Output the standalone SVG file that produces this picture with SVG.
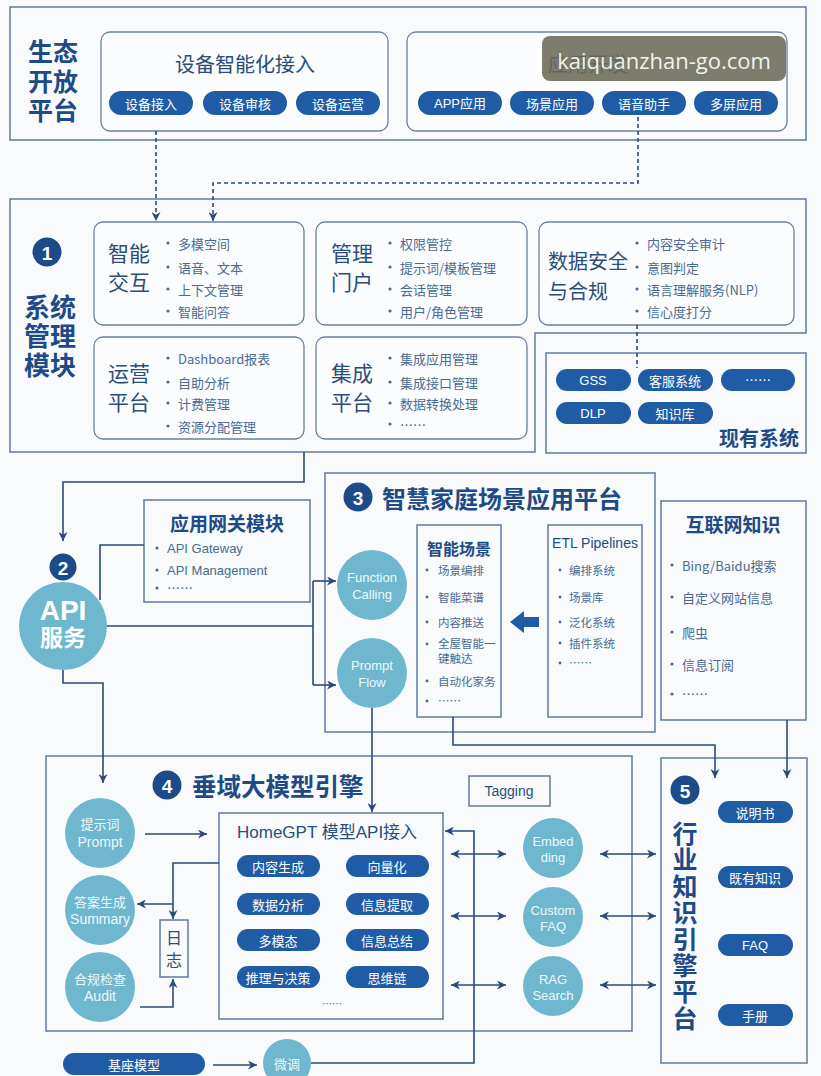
<svg xmlns="http://www.w3.org/2000/svg" width="821" height="1076" viewBox="0 0 821 1076">
<style>
text{font-family:"Noto Sans CJK SC","Liberation Sans",sans-serif}
.lat{font-family:"Liberation Sans","Noto Sans CJK SC",sans-serif}
.ol{fill:none;stroke:#5d7ba1;stroke-width:1.5}
.sub{fill:#fbfcfe;stroke:#6b809d;stroke-width:1.3}
.pill{fill:#1f5ca5}
.pt{fill:#ffffff;font-size:13px;text-anchor:middle;dominant-baseline:central}
.circ{fill:#6fb7cf}
.ct{fill:#eef8fb;font-size:13px;text-anchor:middle;dominant-baseline:central}
.h{fill:#1e4a86;font-weight:bold;dominant-baseline:central}
.hc{fill:#1e4a86;font-weight:bold;text-anchor:middle;dominant-baseline:central}
.st{fill:#2a4d7a;dominant-baseline:central}
.b{fill:#4b6a92;font-size:13px;dominant-baseline:central}
.bs{fill:#4b6a92;font-size:11.5px;dominant-baseline:central}
.dot{fill:#4b6a92}
.num{fill:#1d4b8a}
.nt{fill:#ffffff;font-size:19px;font-weight:bold;text-anchor:middle;dominant-baseline:central}
.conn{fill:none;stroke:#2b4a7a;stroke-width:1.6}
.dash{stroke-dasharray:4 3}
</style>
<defs>
<marker id="ah" viewBox="0 0 10 10" refX="10" refY="5" markerWidth="9" markerHeight="9" markerUnits="userSpaceOnUse" orient="auto-start-reverse"><path d="M0,0 L10,5 L0,10 L3,5 z" fill="#2b4a7a"/></marker>
</defs>
<rect x="0" y="0" width="821" height="1076" fill="#f8fafc"/>

<!-- 生态开放平台 -->
<g id="eco">
<rect class="ol" x="10" y="7" width="796" height="133"/>
<text class="hc lat" font-size="25"><tspan x="53" y="52">生态</tspan><tspan x="53" y="82">开放</tspan><tspan x="53" y="111">平台</tspan></text>
</g>
<g id="device">
<rect class="sub" x="101" y="32" width="287" height="99" rx="9"/>
<text class="st" x="245" y="63" font-size="20" text-anchor="middle">设备智能化接入</text>
<rect class="pill" x="109" y="91" width="84" height="24" rx="12"/><text class="pt" x="151" y="103">设备接入</text>
<rect class="pill" x="203" y="91" width="84" height="24" rx="12"/><text class="pt" x="245" y="103">设备审核</text>
<rect class="pill" x="296" y="91" width="84" height="24" rx="12"/><text class="pt" x="338" y="103">设备运营</text>
</g>
<g id="appdev">
<rect class="sub" x="407" y="32" width="380" height="99" rx="9"/>
<text class="st" x="588" y="63" font-size="20" text-anchor="middle">应用开发</text>
<rect class="pill" x="418" y="91" width="84" height="24" rx="12"/><text class="pt lat" x="460" y="103">APP应用</text>
<rect class="pill" x="510" y="91" width="84" height="24" rx="12"/><text class="pt" x="552" y="103">场景应用</text>
<rect class="pill" x="602" y="91" width="84" height="24" rx="12"/><text class="pt" x="644" y="103">语音助手</text>
<rect class="pill" x="694" y="91" width="84" height="24" rx="12"/><text class="pt" x="736" y="103">多屏应用</text>
</g>

<!-- Module 1 -->
<g id="module1">
<path class="ol" d="M10,199 H806 V333 H535 V452 H10 Z"/>
<circle class="num" cx="47" cy="252" r="14.5"/><text class="nt lat" x="47" y="253">1</text>
<text class="hc lat" font-size="26"><tspan x="50" y="308">系统</tspan><tspan x="50" y="337">管理</tspan><tspan x="50" y="366">模块</tspan></text>
</g>
<g id="interact">
<rect class="sub" x="94" y="222" width="210" height="103" rx="9"/>
<text class="st lat" font-size="21" text-anchor="middle"><tspan x="129" y="253">智能</tspan><tspan x="129" y="282">交互</tspan></text>
<circle class="dot" cx="168" cy="243" r="1.6"/><text class="b" x="178" y="243">多模空间</text>
<circle class="dot" cx="168" cy="267" r="1.6"/><text class="b" x="178" y="267">语音、文本</text>
<circle class="dot" cx="168" cy="289" r="1.6"/><text class="b" x="178" y="289">上下文管理</text>
<circle class="dot" cx="168" cy="311" r="1.6"/><text class="b" x="178" y="311">智能问答</text>
</g>
<g id="ops">
<rect class="sub" x="94" y="337" width="210" height="102" rx="9"/>
<text class="st lat" font-size="21" text-anchor="middle"><tspan x="129" y="373">运营</tspan><tspan x="129" y="402">平台</tspan></text>
<circle class="dot" cx="168" cy="358" r="1.6"/><text class="b" x="178" y="358">Dashboard报表</text>
<circle class="dot" cx="168" cy="382" r="1.6"/><text class="b" x="178" y="382">自助分析</text>
<circle class="dot" cx="168" cy="403" r="1.6"/><text class="b" x="178" y="403">计费管理</text>
<circle class="dot" cx="168" cy="426" r="1.6"/><text class="b" x="178" y="426">资源分配管理</text>
</g>
<g id="portal">
<rect class="sub" x="316" y="222" width="211" height="103" rx="9"/>
<text class="st lat" font-size="21" text-anchor="middle"><tspan x="352" y="253">管理</tspan><tspan x="352" y="282">门户</tspan></text>
<circle class="dot" cx="390" cy="243" r="1.6"/><text class="b" x="400" y="243">权限管控</text>
<circle class="dot" cx="390" cy="267" r="1.6"/><text class="b" x="400" y="267">提示词/模板管理</text>
<circle class="dot" cx="390" cy="289" r="1.6"/><text class="b" x="400" y="289">会话管理</text>
<circle class="dot" cx="390" cy="311" r="1.6"/><text class="b" x="400" y="311">用户/角色管理</text>
</g>
<g id="integ">
<rect class="sub" x="316" y="337" width="211" height="102" rx="9"/>
<text class="st lat" font-size="21" text-anchor="middle"><tspan x="352" y="373">集成</tspan><tspan x="352" y="402">平台</tspan></text>
<circle class="dot" cx="390" cy="358" r="1.6"/><text class="b" x="400" y="358">集成应用管理</text>
<circle class="dot" cx="390" cy="382" r="1.6"/><text class="b" x="400" y="382">集成接口管理</text>
<circle class="dot" cx="390" cy="403" r="1.6"/><text class="b" x="400" y="403">数据转换处理</text>
<circle class="dot" cx="390" cy="424" r="1.6"/><text class="b" x="400" y="424">……</text>
</g>
<g id="security">
<rect class="sub" x="539" y="222" width="255" height="103" rx="9"/>
<text class="st lat" font-size="20"><tspan x="548" y="262">数据安全</tspan><tspan x="548" y="292">与合规</tspan></text>
<circle class="dot" cx="637" cy="243" r="1.6"/><text class="b" x="647" y="243">内容安全审计</text>
<circle class="dot" cx="637" cy="267" r="1.6"/><text class="b" x="647" y="267">意图判定</text>
<circle class="dot" cx="637" cy="289" r="1.6"/><text class="b" x="647" y="289">语言理解服务(NLP)</text>
<circle class="dot" cx="637" cy="311" r="1.6"/><text class="b" x="647" y="311">信心度打分</text>
</g>
<g id="existing">
<rect class="ol" x="546" y="353" width="260" height="100"/>
<rect class="pill" x="556" y="369" width="75" height="22" rx="11"/><text class="pt lat" x="593" y="380">GSS</text>
<rect class="pill" x="638" y="369" width="75" height="22" rx="11"/><text class="pt" x="675" y="380">客服系统</text>
<rect class="pill" x="721" y="369" width="74" height="22" rx="11"/><text class="pt" x="758" y="379" font-size="10">……</text>
<rect class="pill" x="556" y="402" width="75" height="22" rx="11"/><text class="pt lat" x="593" y="413">DLP</text>
<rect class="pill" x="638" y="402" width="75" height="22" rx="11"/><text class="pt" x="675" y="413">知识库</text>
<text class="h" x="799" y="437" font-size="20" text-anchor="end">现有系统</text>
</g>

<!-- Module 2 -->
<g id="api">
<circle class="circ" cx="63" cy="626" r="44"/>
<text class="lat" fill="#ffffff" font-weight="bold" text-anchor="middle" dominant-baseline="central"><tspan x="63" y="610" font-size="28">API</tspan><tspan x="63" y="638" font-size="23">服务</tspan></text>
<circle class="num" cx="63" cy="567" r="13.5"/><text class="nt lat" x="63" y="568" font-size="18">2</text>
</g>
<g id="gateway">
<rect class="ol" x="144" y="500" width="166" height="102" fill="#fbfcfe"/>
<text class="hc" x="227" y="522" font-size="19">应用网关模块</text>
<circle class="dot" cx="157" cy="548" r="1.6"/><text class="b lat" x="167" y="548">API Gateway</text>
<circle class="dot" cx="157" cy="570" r="1.6"/><text class="b lat" x="167" y="570">API Management</text>
<circle class="dot" cx="157" cy="588" r="1.6"/><text class="b" x="167" y="587" font-size="10">……</text>
</g>

<!-- Module 3 -->
<g id="module3">
<rect class="ol" x="325" y="473" width="330" height="259"/>
<circle class="num" cx="358" cy="497" r="14.5"/><text class="nt lat" x="358" y="498">3</text>
<text class="h" x="382" y="497" font-size="24">智慧家庭场景应用平台</text>
</g>
<g id="funccall">
<circle class="circ" cx="372" cy="585" r="35"/>
<text class="ct lat" font-size="14"><tspan x="372" y="577">Function</tspan><tspan x="372" y="594">Calling</tspan></text>
</g>
<g id="promptflow">
<circle class="circ" cx="372" cy="673" r="35"/>
<text class="ct lat" font-size="14"><tspan x="372" y="665">Prompt</tspan><tspan x="372" y="682">Flow</tspan></text>
</g>
<g id="scenes">
<rect class="ol" x="417" y="525" width="84" height="192" fill="#fbfcfe"/>
<text class="hc" x="459" y="548" font-size="16">智能场景</text>
<circle class="dot" cx="427" cy="570" r="1.4"/><text class="bs" x="438" y="570">场景编排</text>
<circle class="dot" cx="427" cy="597" r="1.4"/><text class="bs" x="438" y="597">智能菜谱</text>
<circle class="dot" cx="427" cy="622" r="1.4"/><text class="bs" x="438" y="622">内容推送</text>
<circle class="dot" cx="427" cy="644" r="1.4"/><text class="bs lat"><tspan x="438" y="644">全屋智能一</tspan><tspan x="438" y="659">键触达</tspan></text>
<circle class="dot" cx="427" cy="681" r="1.4"/><text class="bs" x="438" y="681">自动化家务</text>
<circle class="dot" cx="427" cy="701" r="1.4"/><text class="bs" x="438" y="700" font-size="9">……</text>
</g>
<g id="etl">
<rect class="ol" x="548" y="525" width="94" height="192" fill="#fbfcfe"/>
<text class="lat" x="595" y="543" font-size="14" fill="#1e4a86" text-anchor="middle" dominant-baseline="central">ETL Pipelines</text>
<circle class="dot" cx="560" cy="570" r="1.4"/><text class="bs" x="569" y="570">编排系统</text>
<circle class="dot" cx="560" cy="597" r="1.4"/><text class="bs" x="569" y="597">场景库</text>
<circle class="dot" cx="560" cy="622" r="1.4"/><text class="bs" x="569" y="622">泛化系统</text>
<circle class="dot" cx="560" cy="643" r="1.4"/><text class="bs" x="569" y="643">插件系统</text>
<circle class="dot" cx="560" cy="663" r="1.4"/><text class="bs" x="569" y="662" font-size="9">……</text>
</g>
<path id="bigarrow" d="M510,622 L524,611 L524,617 L539,617 L539,627 L524,627 L524,633 Z" fill="#1f5ca5"/>

<!-- Internet knowledge -->
<g id="internet">
<rect class="ol" x="661" y="501" width="145" height="219" fill="#fbfcfe"/>
<text class="hc" x="733" y="523" font-size="19">互联网知识</text>
<circle class="dot" cx="672" cy="565" r="1.6"/><text class="b" x="682" y="565">Bing/Baidu搜索</text>
<circle class="dot" cx="672" cy="597" r="1.6"/><text class="b" x="682" y="597">自定义网站信息</text>
<circle class="dot" cx="672" cy="632" r="1.6"/><text class="b" x="682" y="632">爬虫</text>
<circle class="dot" cx="672" cy="664" r="1.6"/><text class="b" x="682" y="664">信息订阅</text>
<circle class="dot" cx="672" cy="694" r="1.6"/><text class="b" x="682" y="693" font-size="10">……</text>
</g>

<!-- Module 4 -->
<g id="module4">
<rect class="ol" x="46" y="756" width="586" height="275"/>
<circle class="num" cx="167" cy="785" r="14.5"/><text class="nt lat" x="167" y="786">4</text>
<text class="h" x="192" y="785" font-size="24.5">垂域大模型引擎</text>
</g>
<g id="tagging">
<rect class="ol" x="469" y="776" width="81" height="30"/>
<text class="lat" x="509" y="791" font-size="14" fill="#2a4d7a" text-anchor="middle" dominant-baseline="central">Tagging</text>
</g>
<g id="prompt">
<circle class="circ" cx="100" cy="833" r="35"/>
<text class="ct lat"><tspan x="100" y="824">提示词</tspan><tspan x="100" y="842" font-size="14">Prompt</tspan></text>
</g>
<g id="summary">
<circle class="circ" cx="100" cy="910" r="35"/>
<text class="ct lat"><tspan x="100" y="902">答案生成</tspan><tspan x="100" y="919" font-size="14">Summary</tspan></text>
</g>
<g id="audit">
<circle class="circ" cx="100" cy="987" r="35"/>
<text class="ct lat"><tspan x="100" y="979">合规检查</tspan><tspan x="100" y="996" font-size="14">Audit</tspan></text>
</g>
<g id="log">
<rect class="ol" x="160" y="920" width="28" height="57" fill="#fbfcfe"/>
<text class="st lat" font-size="16" text-anchor="middle"><tspan x="174" y="938">日</tspan><tspan x="174" y="960">志</tspan></text>
</g>
<g id="homegpt">
<rect class="ol" x="219" y="813" width="224" height="206" fill="#fbfcfe"/>
<text class="st lat" x="237" y="832" font-size="17">HomeGPT  模型API接入</text>
<rect class="pill" x="237" y="855" width="83" height="22" rx="11"/><text class="pt" x="278" y="866">内容生成</text>
<rect class="pill" x="346" y="855" width="83" height="22" rx="11"/><text class="pt" x="387" y="866">向量化</text>
<rect class="pill" x="237" y="893" width="83" height="22" rx="11"/><text class="pt" x="278" y="904">数据分析</text>
<rect class="pill" x="346" y="893" width="83" height="22" rx="11"/><text class="pt" x="387" y="904">信息提取</text>
<rect class="pill" x="237" y="929" width="83" height="22" rx="11"/><text class="pt" x="278" y="940">多模态</text>
<rect class="pill" x="346" y="929" width="83" height="22" rx="11"/><text class="pt" x="387" y="940">信息总结</text>
<rect class="pill" x="237" y="966" width="83" height="22" rx="11"/><text class="pt" x="278" y="977">推理与决策</text>
<rect class="pill" x="346" y="966" width="83" height="22" rx="11"/><text class="pt" x="387" y="977">思维链</text>
<text x="332" y="1003" font-size="10" fill="#4b6a92" text-anchor="middle" dominant-baseline="central">……</text>
</g>
<g id="embedding">
<circle class="circ" cx="553" cy="848" r="30"/>
<text class="ct lat" font-size="14"><tspan x="553" y="841">Embed</tspan><tspan x="553" y="857">ding</tspan></text>
</g>
<g id="faq">
<circle class="circ" cx="553" cy="917" r="30"/>
<text class="ct lat" font-size="14"><tspan x="553" y="910">Custom</tspan><tspan x="553" y="926">FAQ</tspan></text>
</g>
<g id="rag">
<circle class="circ" cx="553" cy="986" r="30"/>
<text class="ct lat" font-size="14"><tspan x="553" y="979">RAG</tspan><tspan x="553" y="995">Search</tspan></text>
</g>
<g id="base">
<rect class="pill" x="63" y="1053" width="142" height="22" rx="11"/>
<text class="pt" x="134" y="1064" font-size="14">基座模型</text>
</g>
<g id="finetune">
<circle class="circ" cx="287" cy="1063" r="24"/>
<text class="ct" x="287" y="1063" font-size="15">微调</text>
</g>

<!-- Module 5 -->
<g id="module5">
<rect class="ol" x="661" y="758" width="146" height="305"/>
<circle class="num" cx="685" cy="790" r="14.5"/><text class="nt lat" x="685" y="791">5</text>
<text class="h" x="685" y="821" font-size="25" writing-mode="tb" style="writing-mode:vertical-rl;letter-spacing:1.4px">行业知识引擎平台</text>
<rect class="pill" x="718" y="801" width="75" height="22" rx="11"/><text class="pt" x="755" y="812">说明书</text>
<rect class="pill" x="718" y="866" width="75" height="22" rx="11"/><text class="pt" x="755" y="877">既有知识</text>
<rect class="pill" x="718" y="934" width="75" height="22" rx="11"/><text class="pt lat" x="755" y="945">FAQ</text>
<rect class="pill" x="718" y="1004" width="75" height="22" rx="11"/><text class="pt" x="755" y="1015">手册</text>
</g>

<!-- Connectors -->
<g id="connectors">
<path class="conn dash" d="M156,131 V221" marker-end="url(#ah)"/>
<path class="conn dash" d="M638,117 V183 H213 V221" marker-end="url(#ah)"/>
<path class="conn dash" d="M637,325 V368"/>
<path class="conn" d="M304,452 V482 H63 V541" marker-end="url(#ah)"/>
<path class="conn" d="M100,600 V545 H144"/>
<path class="conn" d="M107,626 H313"/>
<path class="conn" d="M313,581 V685"/>
<path class="conn" d="M313,581 H336" marker-end="url(#ah)"/>
<path class="conn" d="M313,685 H336" marker-end="url(#ah)"/>
<path class="conn" d="M63,670 V683 H103 V783" marker-end="url(#ah)"/>
<path class="conn" d="M372,708 V812" marker-end="url(#ah)"/>
<path class="conn" d="M453,717 V745 H715 V778" marker-end="url(#ah)"/>
<path class="conn" d="M787,720 V778" marker-end="url(#ah)"/>
<path class="conn" d="M145,834 H207" marker-end="url(#ah)"/>
<path class="conn" d="M219,863 H173 V919" marker-end="url(#ah)"/>
<path class="conn" d="M173,904 H137" marker-end="url(#ah)"/>
<path class="conn" d="M140,1007 H173 V979" marker-end="url(#ah)"/>
<path class="conn" d="M213,1065 H257" marker-end="url(#ah)"/>
<path class="conn" d="M311,1063 H474 V831 H445" marker-end="url(#ah)"/>
<path class="conn" d="M451,854 H506" marker-start="url(#ah)" marker-end="url(#ah)"/>
<path class="conn" d="M451,916 H506" marker-start="url(#ah)" marker-end="url(#ah)"/>
<path class="conn" d="M451,985 H506" marker-start="url(#ah)" marker-end="url(#ah)"/>
<path class="conn" d="M600,854 H656" marker-start="url(#ah)" marker-end="url(#ah)"/>
<path class="conn" d="M600,916 H656" marker-start="url(#ah)" marker-end="url(#ah)"/>
<path class="conn" d="M600,985 H656" marker-start="url(#ah)" marker-end="url(#ah)"/>
</g>

<!-- watermark -->
<g id="watermark">
<rect x="542" y="36" width="244" height="45" rx="8" fill="#6b6a59" opacity="0.88"/>
<text x="664" y="60" font-size="22" fill="#eef3ec" text-anchor="middle" dominant-baseline="central" style="font-family:'Open Sans',sans-serif">kaiquanzhan-go.com</text>
</g>
</svg>
